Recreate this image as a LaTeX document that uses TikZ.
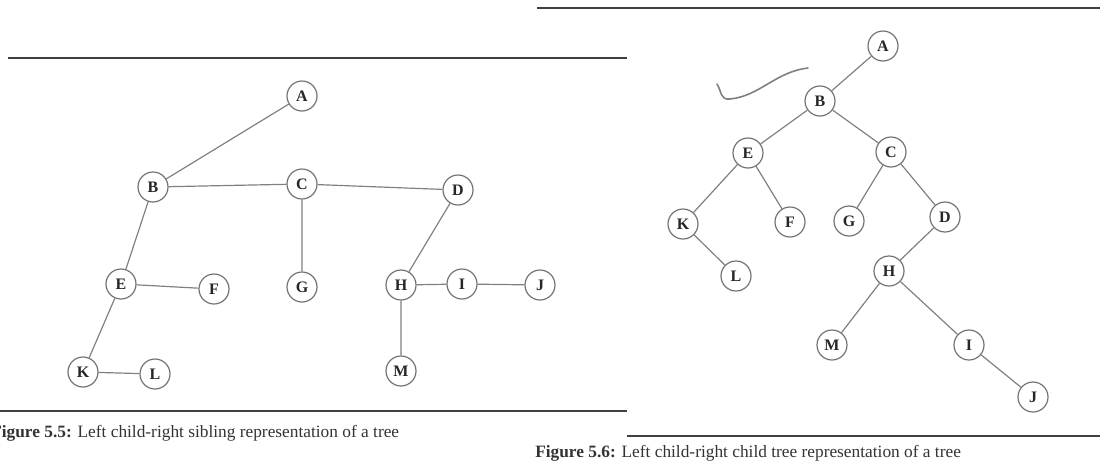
\documentclass[tikz,border=0pt]{standalone}
\usepackage{fontspec}
\setmainfont{Liberation Serif}
\newfontfamily\nodefont{Liberation Serif}
\begin{document}
\begin{tikzpicture}[x=0.75pt,y=-0.75pt,
  tnode/.style={circle,draw=black!55,line width=0.9pt,minimum size=22.5pt,inner sep=0pt,
    font=\nodefont\bfseries\fontsize{12}{13}\selectfont,text=black!85,fill=white},
  edge/.style={draw=black!50,line width=0.9pt},
  rule/.style={draw=black!75,line width=1.4pt},
  captext/.style={font=\fontsize{13}{14}\selectfont,text=black!80,anchor=base west,inner sep=0pt}]
\useasboundingbox (0,0) rectangle (1100,461);
% rules framing the two figures
\draw[rule] (8,58) -- (627,58);
\draw[rule] (0,411) -- (627,411);
\draw[rule] (537,8) -- (1100,8);
\draw[rule] (627,436) -- (1100,436);
% left child - right sibling tree
\node[tnode] (a1) at (302,96) {A};
\node[tnode] (b1) at (153,187) {B};
\node[tnode] (c1) at (302,184) {C};
\node[tnode] (d1) at (458,190) {D};
\node[tnode] (e1) at (121,284) {E};
\node[tnode] (f1) at (214,289) {F};
\node[tnode] (g1) at (302,287) {G};
\node[tnode] (h1) at (401,285) {H};
\node[tnode] (i1) at (462,284) {I};
\node[tnode] (j1) at (540,285) {J};
\node[tnode] (k1) at (83,372) {K};
\node[tnode] (l1) at (155,374) {L};
\node[tnode] (m1) at (401,371) {M};
\path[edge] (a1)--(b1) (b1)--(c1) (c1)--(d1) (c1)--(g1) (b1)--(e1) (e1)--(f1)
  (e1)--(k1) (k1)--(l1) (d1)--(h1) (h1)--(i1) (i1)--(j1) (h1)--(m1);
\node[captext] (cap1) at (-9,437) {\textbf{Figure 5.5:} Left child-right sibling representation of a tree};
% left child - right child tree
\node[tnode] (a2) at (883,46) {A};
\node[tnode] (b2) at (820,101) {B};
\node[tnode] (e2) at (748,153) {E};
\node[tnode] (c2) at (891,152) {C};
\node[tnode] (k2) at (683,224) {K};
\node[tnode] (f2) at (790,222) {F};
\node[tnode] (g2) at (849,221) {G};
\node[tnode] (d2) at (945,217) {D};
\node[tnode] (l2) at (736,276) {L};
\node[tnode] (h2) at (889,271) {H};
\node[tnode] (m2) at (832,345) {M};
\node[tnode] (i2) at (969,345) {I};
\node[tnode] (j2) at (1033,397) {J};
\path[edge] (a2)--(b2) (b2)--(e2) (b2)--(c2) (e2)--(k2) (e2)--(f2) (k2)--(l2)
  (c2)--(g2) (c2)--(d2) (d2)--(h2) (h2)--(m2) (h2)--(i2) (i2)--(j2);
\node[captext] (cap2) at (535,457) {\textbf{Figure 5.6:} Left child-right child tree representation of a tree};
% pen tick beside B
\draw[black!50,line width=1.2pt,line cap=round,line join=round]
  (717,84) .. controls (722,92) and (720,100) .. (730,99)
  .. controls (760,96) and (775,72) .. (808,68);
\end{tikzpicture}
\end{document}
